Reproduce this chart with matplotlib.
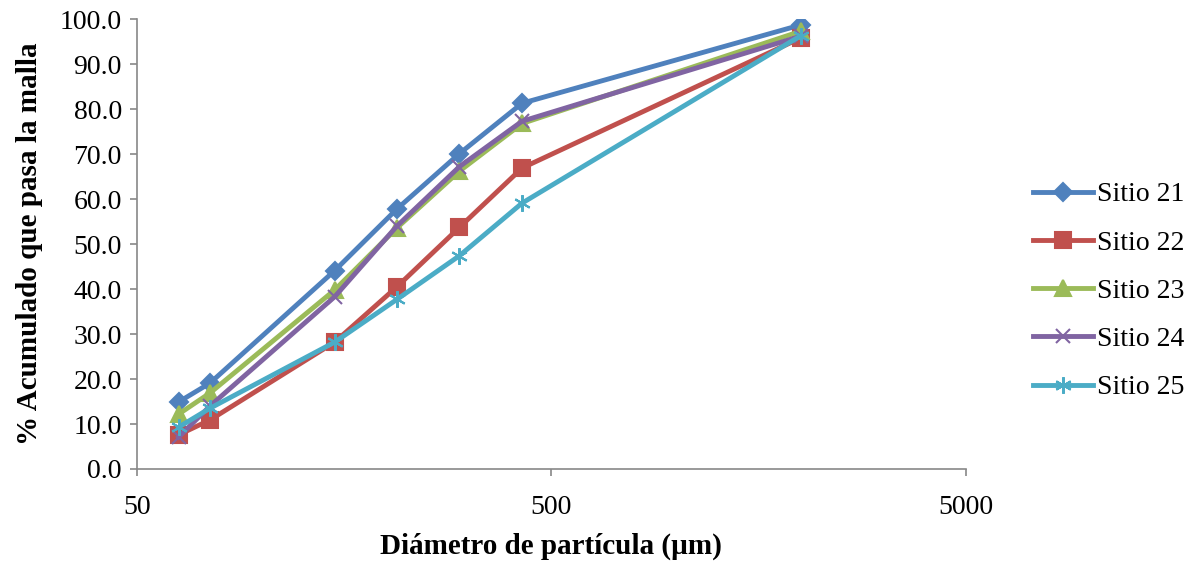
import matplotlib.pyplot as plt
from matplotlib.ticker import FixedLocator, NullLocator, FixedFormatter

# tamaño de partícula (µm)
diametro = [63, 75, 150, 212, 300, 425, 2000]

sitio_21 = [14.9, 19.1, 44.1, 57.8, 70.1, 81.3, 98.7]
sitio_22 = [7.6, 10.9, 28.2, 40.5, 53.7, 66.9, 95.8]
sitio_23 = [12.2, 16.9, 39.8, 53.6, 66.2, 76.8, 97.3]
sitio_24 = [7.1, 14.0, 38.3, 54.0, 67.2, 77.3, 96.2]
sitio_25 = [9.3, 13.5, 28.2, 37.7, 47.4, 59.1, 96.3]

series = [
    ("Sitio 21", sitio_21, "#4F81BD", "D", 9),
    ("Sitio 22", sitio_22, "#C0504D", "s", 11),
    ("Sitio 23", sitio_23, "#9BBB59", "^", 11),
    ("Sitio 24", sitio_24, "#8064A2", "x", 10),
    ("Sitio 25", sitio_25, "#4BACC6", (6, 2, 0), 12),
]

plt.rcParams['font.family'] = ['Liberation Serif', 'DejaVu Serif']

fig = plt.figure(figsize=(11.92, 5.62), dpi=100)
ax = fig.add_axes([0.115, 0.1655, 0.695, 0.8005])

for nombre, valores, color, marcador, tam in series:
    ax.plot(diametro, valores, color=color, lw=3.5, marker=marcador,
            markersize=tam, markeredgewidth=1.5, label=nombre)

ax.set_xscale("log")
ax.set_xlim(50, 5000)
ax.set_ylim(0, 100)
ax.xaxis.set_major_locator(FixedLocator([50, 500, 5000]))
ax.xaxis.set_major_formatter(FixedFormatter(["50", "500", "5000"]))
ax.xaxis.set_minor_locator(NullLocator())
ax.set_yticks(range(0, 101, 10))
ax.set_yticklabels([f"{v:.1f}" for v in range(0, 101, 10)])

for lado in ["top", "right"]:
    ax.spines[lado].set_visible(False)
for lado in ["left", "bottom"]:
    ax.spines[lado].set_color("#888888")
    ax.spines[lado].set_linewidth(1.2)
ax.tick_params(axis="both", labelsize=20, color="#888888", length=5, width=1.2)
ax.tick_params(axis="y", pad=6)
ax.tick_params(axis="x", pad=14)

ax.set_xlabel("Diámetro de partícula (µm)", fontsize=21, fontweight="bold", labelpad=9)
ax.set_ylabel("% Acumulado que pasa la malla", fontsize=21, fontweight="bold", labelpad=12)

fig.legend(loc="center left", bbox_to_anchor=(0.846, 0.482), frameon=False,
           fontsize=20, handlelength=2.15, labelspacing=0.82, handletextpad=0.15)

fig.savefig("out.png", dpi=100)
